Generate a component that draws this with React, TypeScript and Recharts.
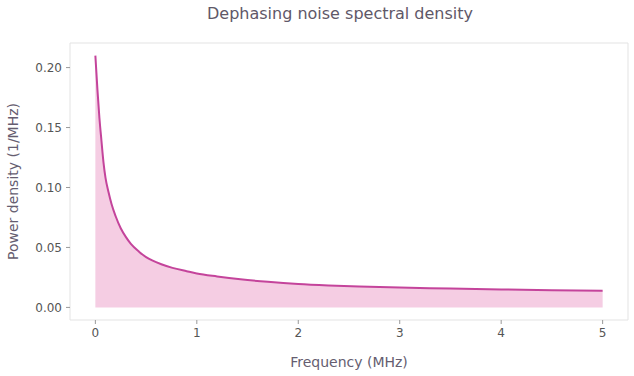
import { Area, AreaChart, Label, ReferenceArea, XAxis, YAxis } from "recharts"

// frequency in MHz
const frequency = [
  0, 0.02, 0.04, 0.06, 0.08, 0.1, 0.13, 0.16, 0.2, 0.25, 0.3, 0.35, 0.43, 0.5, 0.56, 0.65, 0.76, 0.9, 1.0, 1.2,
  1.43, 1.7, 2.0, 2.3, 2.6, 3.0, 3.5, 4.0, 4.5, 5.0,
]

// power density in 1/MHz
const density = [
  0.21, 0.182, 0.158, 0.139, 0.121, 0.108, 0.096, 0.086, 0.076, 0.066, 0.0588, 0.053, 0.0465, 0.042, 0.0392, 0.036,
  0.033, 0.0302, 0.0283, 0.0258, 0.0234, 0.0213, 0.0195, 0.0183, 0.0174, 0.0165, 0.0157, 0.015, 0.0144, 0.0139,
]

const xTicks = [0, 1, 2, 3, 4, 5]
const yTicks = [0, 0.05, 0.1, 0.15, 0.2]

const data = frequency.map((f, i) => ({ f, s: density[i] }))

const font = "'DejaVu Sans', sans-serif"

export default function App() {
  return (
    <div style={{ position: "absolute", left: 0, top: 0, width: 634, height: 376, background: "#fff", fontFamily: font }}>
      <div
        style={{
          position: "absolute",
          top: 4,
          left: 0,
          width: 680,
          textAlign: "center",
          fontSize: 16,
          color: "#5f5868",
        }}
      >
        Dephasing noise spectral density
      </div>
      <AreaChart width={634} height={376} data={data} margin={{ top: 43, right: 6, left: 0, bottom: 0 }}>
        <ReferenceArea
          x1={-0.25}
          x2={5.25}
          y1={-0.0105}
          y2={0.2205}
          fill="none"
          stroke="#e3e3e3"
          strokeWidth={1}
          ifOverflow="extendDomain"
        />
        <XAxis
          dataKey="f"
          type="number"
          domain={[-0.25, 5.25]}
          ticks={xTicks}
          allowDataOverflow
          axisLine={false}
          tickSize={4}
          tickMargin={4}
          height={56}
          stroke="#777"
          tick={{ fill: "#555555", fontSize: 12, fontFamily: font }}
          tickLine={{ stroke: "#999" }}
        >
          <Label value="Frequency (MHz)" position="insideBottom" offset={9} fill="#655d70" fontSize={14} fontFamily={font} />
        </XAxis>
        <YAxis
          type="number"
          domain={[-0.0105, 0.2205]}
          ticks={yTicks}
          allowDataOverflow
          axisLine={false}
          tickSize={4}
          tickMargin={4}
          width={70}
          tickFormatter={(v: number) => v.toFixed(2)}
          tick={{ fill: "#555555", fontSize: 12, fontFamily: font }}
          tickLine={{ stroke: "#999" }}
        >
          <Label
            value="Power density (1/MHz)"
            angle={-90}
            position="insideLeft"
            offset={13}
            style={{ textAnchor: "middle" }}
            fill="#655d70"
            fontSize={14}
            fontFamily={font}
          />
        </YAxis>
        <Area
          type="monotone"
          dataKey="s"
          baseValue={0}
          stroke="#c4449b"
          strokeWidth={2}
          fill="#f5cde3"
          fillOpacity={1}
          isAnimationActive={false}
          dot={false}
          activeDot={false}
        />
      </AreaChart>
    </div>
  )
}
